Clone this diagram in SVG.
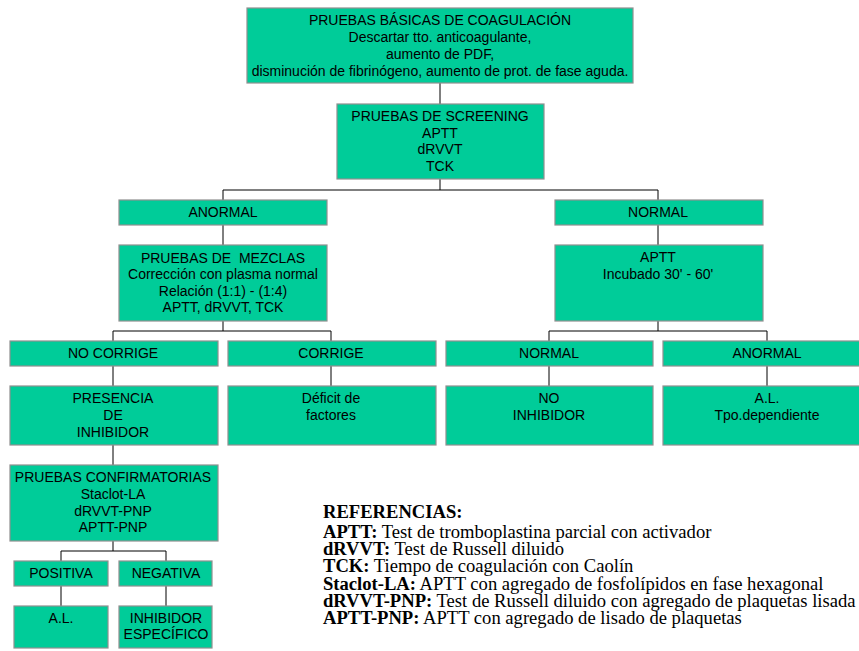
<svg xmlns="http://www.w3.org/2000/svg" width="859" height="651" viewBox="0 0 859 651">
<style>
.box{fill:#00CC99;stroke:#8f8f8f;stroke-width:1.2}
.t{font-family:"Liberation Sans",Arial,sans-serif;font-size:14px;fill:#000;text-anchor:middle}
.c{stroke:#000;stroke-width:1;fill:none}
.r{font-family:"Liberation Serif","Times New Roman",serif;font-size:18.6px;fill:#000}
.b{font-weight:bold}
</style>
<rect width="859" height="651" fill="#fff"/>
<g id="connectors">
<path class="c" d="M440,83V104M440,179V190M223,190H658M223,190V200M658,190V200M223,225V245M658,225V245M223,321V331M113,331H331M113,331V341M331,331V341M658,321V331M549,331H767M549,331V341M767,331V341M113,366V386M331,366V386M549,366V386M767,366V386M113,445V465M113,541V551M61,551H166M61,551V561M166,551V561M61,586V606M166,586V606"/>
</g>
<g id="basicas"><rect class="box" x="247" y="8" width="386" height="75"/>
<text class="t" x="440" y="25">PRUEBAS BÁSICAS DE COAGULACIÓN</text>
<text class="t" x="440" y="42">Descartar tto. anticoagulante,</text>
<text class="t" x="440" y="59">aumento de PDF,</text>
<text class="t" x="440" y="76">disminución de fibrinógeno, aumento de prot. de fase aguda.</text></g>
<g id="screening"><rect class="box" x="337" y="104" width="207" height="75"/>
<text class="t" x="440" y="121">PRUEBAS DE SCREENING</text>
<text class="t" x="440" y="138">APTT</text>
<text class="t" x="440" y="154">dRVVT</text>
<text class="t" x="440" y="171">TCK</text></g>
<g id="anormal1"><rect class="box" x="119" y="200" width="208" height="25"/>
<text class="t" x="223" y="217">ANORMAL</text></g>
<g id="normal1"><rect class="box" x="555" y="200" width="208" height="25"/>
<text class="t" x="658" y="217">NORMAL</text></g>
<g id="mezclas"><rect class="box" x="119" y="245" width="208" height="76"/>
<text class="t" x="223" y="263" xml:space="preserve">PRUEBAS DE  MEZCLAS</text>
<text class="t" x="223" y="279">Corrección con plasma normal</text>
<text class="t" x="223" y="296">Relación (1:1) - (1:4)</text>
<text class="t" x="223" y="312">APTT, dRVVT, TCK</text></g>
<g id="aptt"><rect class="box" x="555" y="245" width="208" height="76"/>
<text class="t" x="658" y="262">APTT</text>
<text class="t" x="658" y="279">Incubado 30' - 60'</text></g>
<g id="nocorrige"><rect class="box" x="10" y="341" width="208" height="25"/>
<text class="t" x="113" y="358">NO CORRIGE</text></g>
<g id="corrige"><rect class="box" x="228" y="341" width="208" height="25"/>
<text class="t" x="331" y="358">CORRIGE</text></g>
<g id="normal2"><rect class="box" x="446" y="341" width="207" height="25"/>
<text class="t" x="549" y="358">NORMAL</text></g>
<g id="anormal2"><rect class="box" x="663" y="341" width="208" height="25"/>
<text class="t" x="767" y="358">ANORMAL</text></g>
<g id="presencia"><rect class="box" x="10" y="386" width="208" height="59"/>
<text class="t" x="113" y="403">PRESENCIA</text>
<text class="t" x="113" y="420">DE</text>
<text class="t" x="113" y="437">INHIBIDOR</text></g>
<g id="deficit"><rect class="box" x="228" y="386" width="208" height="59"/>
<text class="t" x="331" y="403">Déficit de</text>
<text class="t" x="331" y="420">factores</text></g>
<g id="noinhibidor"><rect class="box" x="446" y="386" width="207" height="59"/>
<text class="t" x="549" y="403">NO</text>
<text class="t" x="549" y="420">INHIBIDOR</text></g>
<g id="altpo"><rect class="box" x="663" y="386" width="208" height="59"/>
<text class="t" x="767" y="403">A.L.</text>
<text class="t" x="767" y="420">Tpo.dependiente</text></g>
<g id="confirmatorias"><rect class="box" x="10" y="465" width="208" height="76"/>
<text class="t" x="113" y="482">PRUEBAS CONFIRMATORIAS</text>
<text class="t" x="113" y="499">Staclot-LA</text>
<text class="t" x="113" y="516">dRVVT-PNP</text>
<text class="t" x="113" y="532">APTT-PNP</text></g>
<g id="positiva"><rect class="box" x="14" y="561" width="94" height="25"/>
<text class="t" x="61" y="578">POSITIVA</text></g>
<g id="negativa"><rect class="box" x="119" y="561" width="93" height="25"/>
<text class="t" x="166" y="578">NEGATIVA</text></g>
<g id="al"><rect class="box" x="14" y="606" width="94" height="42"/>
<text class="t" x="61" y="623">A.L.</text></g>
<g id="especifico"><rect class="box" x="119" y="606" width="93" height="42"/>
<text class="t" x="166" y="623">INHIBIDOR</text>
<text class="t" x="166" y="639">ESPECÍFICO</text></g>
<g id="referencias">
<text class="r b" x="323" y="518">REFERENCIAS:</text>
<text class="r" x="323" y="538"><tspan class="b">APTT:</tspan> Test de tromboplastina parcial con activador</text>
<text class="r" x="323" y="555"><tspan class="b">dRVVT:</tspan> Test de Russell diluido</text>
<text class="r" x="323" y="572"><tspan class="b">TCK:</tspan> Tiempo de coagulación con Caolín</text>
<text class="r" x="323" y="590"><tspan class="b">Staclot-LA:</tspan> APTT con agregado de fosfolípidos en fase hexagonal</text>
<text class="r" x="323" y="607"><tspan class="b">dRVVT-PNP:</tspan> Test de Russell diluido con agregado de plaquetas lisada</text>
<text class="r" x="323" y="624"><tspan class="b">APTT-PNP:</tspan> APTT con agregado de lisado de plaquetas</text>
</g>
</svg>
